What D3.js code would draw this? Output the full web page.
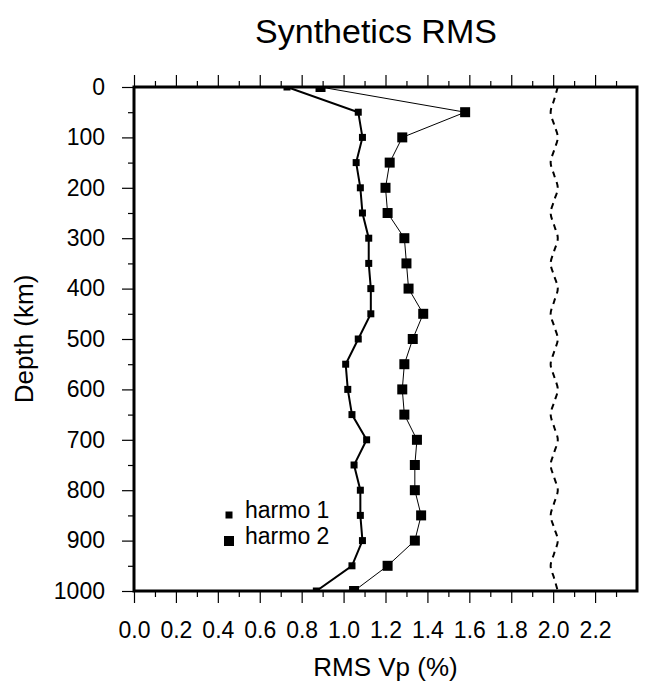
<!DOCTYPE html>
<html>
<head>
<meta charset="utf-8">
<script src="https://d3js.org/d3.v7.min.js"></script>
<style>
body { margin: 0; background: #fff; }
svg text { font-family: "Liberation Sans", Arial, sans-serif; fill: #000; }
</style>
</head>
<body>
<script>
var depths = [0, 50, 100, 150, 200, 250, 300, 350, 400, 450, 500, 550, 600, 650, 700, 750, 800, 850, 900, 950, 1000];
var harmo1 = [0.73, 1.07, 1.09, 1.06, 1.08, 1.09, 1.12, 1.12, 1.13, 1.13, 1.07, 1.01, 1.02, 1.04, 1.11, 1.05, 1.08, 1.08, 1.09, 1.04, 0.87];
var harmo2 = [0.89, 1.58, 1.28, 1.22, 1.20, 1.21, 1.29, 1.30, 1.31, 1.38, 1.33, 1.29, 1.28, 1.29, 1.35, 1.34, 1.34, 1.37, 1.34, 1.21, 1.05];

// reference curve (dashed)
var refDepths = [0, 25, 50, 75, 100, 125, 150, 175, 200, 225, 250, 275, 300, 325, 350, 375, 400, 425, 450, 475, 500,
                 525, 550, 575, 600, 625, 650, 675, 700, 725, 750, 775, 800, 825, 850, 875, 900, 925, 950, 975, 1000];
var refValues = [2.022, 2.005, 1.988, 2.005, 2.022, 2.005, 1.988, 2.005, 2.022, 2.005, 1.988, 2.005, 2.022, 2.005, 1.988, 2.005, 2.022, 2.005, 1.988, 2.005, 2.022,
                 2.005, 1.988, 2.005, 2.022, 2.005, 1.988, 2.005, 2.022, 2.005, 1.988, 2.005, 2.022, 2.005, 1.988, 2.005, 2.022, 2.005, 1.988, 2.005, 2.022];

var xTicks = [0.0, 0.2, 0.4, 0.6, 0.8, 1.0, 1.2, 1.4, 1.6, 1.8, 2.0, 2.2];
var xMinor = [0.1, 0.3, 0.5, 0.7, 0.9, 1.1, 1.3, 1.5, 1.7, 1.9, 2.1, 2.3];
var yTicks = [0, 100, 200, 300, 400, 500, 600, 700, 800, 900, 1000];
var yMinor = [50, 150, 250, 350, 450, 550, 650, 750, 850, 950];
var legendLabels = ["harmo 1", "harmo 2"];

function init(){
    var W = 649, H = 684;
    var left = 134, right = 637, top = 87, bottom = 591;

    var xScale = d3.scaleLinear().domain([0, 2.4]).range([left, right]);
    var yScale = d3.scaleLinear().domain([0, 1000]).range([top, bottom]);

    var svg = d3.select("body").append("svg")
        .attr("width", W)
        .attr("height", H);

    svg.append("defs").append("clipPath").attr("id", "plot")
        .append("rect")
        .attr("x", left).attr("y", top)
        .attr("width", right - left).attr("height", bottom - top);

    //axes: major with labels, minor without
    function styleAxis(g){
        g.select(".domain").remove();
        g.selectAll("line").attr("stroke", "#000").attr("stroke-width", 1.2);
        g.selectAll("text").attr("font-size", "23px");
    }

    svg.append("g")
        .attr("transform", "translate(0," + bottom + ")")
        .call(d3.axisBottom(xScale).tickValues(xTicks).tickSize(12).tickPadding(19)
            .tickFormat(d3.format(".1f")))
        .call(styleAxis);
    svg.append("g")
        .attr("transform", "translate(0," + bottom + ")")
        .call(d3.axisBottom(xScale).tickValues(xMinor).tickSize(6).tickFormat(""))
        .call(styleAxis);

    svg.append("g")
        .attr("transform", "translate(0," + top + ")")
        .call(d3.axisTop(xScale).tickValues(xTicks).tickSize(12).tickFormat(""))
        .call(styleAxis);
    svg.append("g")
        .attr("transform", "translate(0," + top + ")")
        .call(d3.axisTop(xScale).tickValues(xMinor).tickSize(6).tickFormat(""))
        .call(styleAxis);

    svg.append("g")
        .attr("transform", "translate(" + left + ",0)")
        .call(d3.axisLeft(yScale).tickValues(yTicks).tickSize(12).tickPadding(17)
            .tickFormat(d3.format("d")))
        .call(styleAxis);
    svg.append("g")
        .attr("transform", "translate(" + left + ",0)")
        .call(d3.axisLeft(yScale).tickValues(yMinor).tickSize(6).tickFormat(""))
        .call(styleAxis);

    var plot = svg.append("g").attr("clip-path", "url(#plot)");

    var line1 = d3.line()
        .x(function(d, i){ return xScale(harmo1[i]); })
        .y(function(d){ return yScale(d); });
    var line2 = d3.line()
        .x(function(d, i){ return xScale(harmo2[i]); })
        .y(function(d){ return yScale(d); });
    var refLine = d3.line()
        .x(function(d, i){ return xScale(refValues[i]); })
        .y(function(d){ return yScale(d); })
        .curve(d3.curveCardinal);

    plot.append("path").datum(refDepths)
        .attr("d", refLine)
        .attr("fill", "none")
        .attr("stroke", "#000")
        .attr("stroke-width", 2)
        .attr("stroke-dasharray", "6,5");

    plot.append("path").datum(depths)
        .attr("d", line2)
        .attr("fill", "none")
        .attr("stroke", "#000")
        .attr("stroke-width", 1);

    plot.append("path").datum(depths)
        .attr("d", line1)
        .attr("fill", "none")
        .attr("stroke", "#000")
        .attr("stroke-width", 2);

    var s1 = 7, s2 = 10;
    plot.selectAll(".m2").data(depths).enter().append("rect")
        .attr("class", "m2")
        .attr("x", function(d, i){ return xScale(harmo2[i]) - s2 / 2; })
        .attr("y", function(d){ return yScale(d) - s2 / 2; })
        .attr("width", s2).attr("height", s2)
        .attr("fill", "#000");

    plot.selectAll(".m1").data(depths).enter().append("rect")
        .attr("class", "m1")
        .attr("x", function(d, i){ return xScale(harmo1[i]) - s1 / 2; })
        .attr("y", function(d){ return yScale(d) - s1 / 2; })
        .attr("width", s1).attr("height", s1)
        .attr("fill", "#000");

    //frame
    svg.append("rect")
        .attr("x", left).attr("y", top)
        .attr("width", right - left).attr("height", bottom - top)
        .attr("fill", "none")
        .attr("stroke", "#000")
        .attr("stroke-width", 3);

    //legend
    var sizes = [s1, s2];
    legendLabels.forEach(function(lab, i){
        var ly = 515 + i * 26;
        svg.append("rect")
            .attr("x", 229 - sizes[i] / 2).attr("y", ly - sizes[i] / 2)
            .attr("width", sizes[i]).attr("height", sizes[i])
            .attr("fill", "#000");
        svg.append("text")
            .attr("x", 245).attr("y", ly + 3)
            .attr("font-size", "23px")
            .text(lab);
    });

    //titles
    svg.append("text")
        .attr("x", 376).attr("y", 43)
        .attr("text-anchor", "middle")
        .attr("font-size", "34px")
        .text("Synthetics RMS");

    svg.append("text")
        .attr("x", (left + right) / 2).attr("y", 676)
        .attr("text-anchor", "middle")
        .attr("font-size", "26px")
        .text("RMS Vp (%)");

    svg.append("text")
        .attr("transform", "translate(33," + (top + bottom) / 2 + ") rotate(-90)")
        .attr("text-anchor", "middle")
        .attr("font-size", "26px")
        .text("Depth (km)");
}
window.onload = init;
</script>
</body>
</html>
